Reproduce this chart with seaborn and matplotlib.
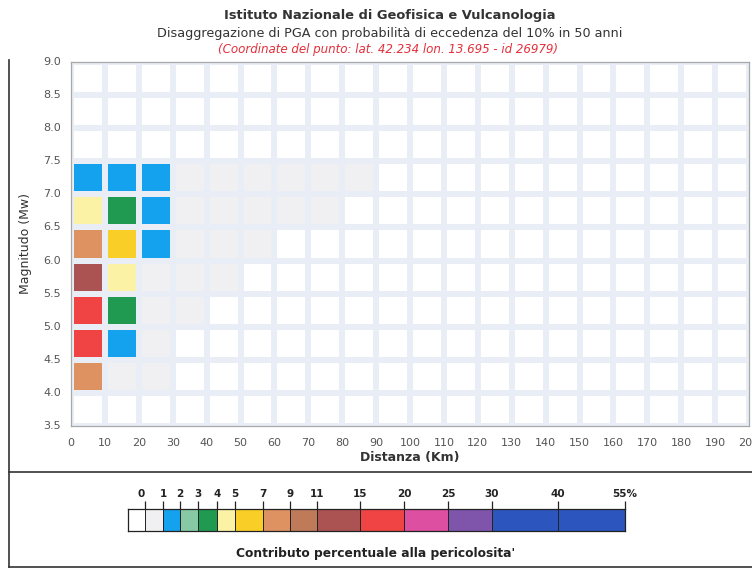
import numpy as np
import pandas as pd
import matplotlib
matplotlib.use("Agg")
import matplotlib.pyplot as plt
from matplotlib.colors import ListedColormap, BoundaryNorm
from matplotlib.lines import Line2D
import seaborn as sns

# ---------------- data ----------------
dist_edges = list(range(0, 210, 10))                     # 0..200 km
mag_edges = [3.5, 4.0, 4.5, 5.0, 5.5, 6.0, 6.5, 7.0, 7.5, 8.0, 8.5, 9.0]

# contribution (%) per magnitude bin (3.5-4.0 ... 8.5-9.0) for each distance bin
contrib_0_10 = [0.0, 8.0, 16.5, 17.0, 12.5, 7.5, 4.5, 1.5, 0.0, 0.0, 0.0]
contrib_10_20 = [0.0, 0.3, 1.6, 3.3, 4.2, 5.5, 3.2, 1.8, 0.0, 0.0, 0.0]
contrib_20_30 = [0.0, 0.1, 0.4, 0.6, 0.7, 1.3, 1.4, 1.2, 0.0, 0.0, 0.0]
contrib_30_40 = [0.0, 0.0, 0.0, 0.1, 0.2, 0.4, 0.6, 0.5, 0.0, 0.0, 0.0]
contrib_40_50 = [0.0, 0.0, 0.0, 0.0, 0.1, 0.3, 0.5, 0.4, 0.0, 0.0, 0.0]
contrib_50_60 = [0.0, 0.0, 0.0, 0.0, 0.0, 0.2, 0.4, 0.3, 0.0, 0.0, 0.0]
contrib_60_70 = [0.0, 0.0, 0.0, 0.0, 0.0, 0.0, 0.3, 0.3, 0.0, 0.0, 0.0]
contrib_70_80 = [0.0, 0.0, 0.0, 0.0, 0.0, 0.0, 0.2, 0.2, 0.0, 0.0, 0.0]
contrib_80_90 = [0.0, 0.0, 0.0, 0.0, 0.0, 0.0, 0.0, 0.1, 0.0, 0.0, 0.0]

# colour classes (%)
class_bounds = [-1, 1e-6, 1, 2, 3, 4, 5, 7, 9, 11, 15, 20, 25, 30, 55]
class_colors = ["#ffffff", "#f0f0f2", "#14a2ee", "#86c9a4", "#1f9a50",
                "#fbf2a6", "#f9cf27", "#de9161", "#bf7a5a", "#ab5352",
                "#f04444", "#dd4fa0", "#7f55ac", "#2c55bd"]
cb_ticks = [0, 1, 2, 3, 4, 5, 7, 9, 11, 15, 20, 25, 30, 40, 55]
cb_ticklabels = ["0", "1", "2", "3", "4", "5", "7", "9", "11", "15",
                 "20", "25", "30", "40", "55%"]

# ---------------- table ----------------
columns = {0: contrib_0_10, 10: contrib_10_20, 20: contrib_20_30,
           30: contrib_30_40, 40: contrib_40_50, 50: contrib_50_60,
           60: contrib_60_70, 70: contrib_70_80, 80: contrib_80_90}
mag_lo = mag_edges[:-1]
grid = pd.DataFrame(0.0, index=mag_lo, columns=dist_edges[:-1])
for d, vals in columns.items():
    grid[d] = vals
grid = grid.iloc[::-1]          # highest magnitude on top

cmap = ListedColormap(class_colors)
norm = BoundaryNorm(class_bounds, cmap.N)

# ---------------- figure ----------------
W, H = 752, 573
fig = plt.figure(figsize=(W / 100, H / 100), dpi=100)
fig.patch.set_facecolor("white")
plt.rcParams["font.family"] = ["DejaVu Sans"]

def fx(px):
    return px / W

def fy(py):
    return 1 - py / H

L, R, T, B = 71, 749, 62, 426
ax = fig.add_axes([fx(L), fy(B), fx(R - L), (B - T) / H])
sns.heatmap(grid, cmap=cmap, norm=norm, cbar=False, linewidths=3.0,
            linecolor="#e9eef6", ax=ax)

ax.set_xticks(np.arange(len(dist_edges)))
ax.set_xticklabels([str(d) for d in dist_edges], rotation=0)
ax.set_yticks(np.arange(len(mag_edges)))
ax.set_yticklabels([f"{m:.1f}" for m in mag_edges[::-1]], rotation=0)
ax.tick_params(axis="both", length=0, labelsize=8, colors="#555555")
ax.tick_params(axis="x", pad=9)
ax.tick_params(axis="y", pad=7)
for s in ax.spines.values():
    s.set_visible(True)
    s.set_color("#a8a8a8")
    s.set_linewidth(0.9)
ax.set_xlabel("Distanza (Km)", fontsize=9, color="#333333", labelpad=2,
              fontweight="semibold")
ax.set_ylabel("Magnitudo (Mw)", fontsize=9, color="#333333", labelpad=8)

# titles
fig.text(fx(390), fy(16), "Istituto Nazionale di Geofisica e Vulcanologia",
         ha="center", va="center", fontsize=9.4, fontweight="bold", color="#333333")
fig.text(fx(390), fy(34), "Disaggregazione di PGA con probabilità di eccedenza del 10% in 50 anni",
         ha="center", va="center", fontsize=9.2, color="#333333")
fig.text(fx(388), fy(49), "(Coordinate del punto: lat. 42.234 lon. 13.695 - id 26979)",
         ha="center", va="center", fontsize=8.6, style="italic", color="#e3303c")

# ---------------- colour scale ----------------
knot_val = [-1, 0, 1, 2, 3, 4, 5, 7, 9, 11, 15, 20, 25, 30, 40, 55]
knot_pos = [0, 17, 35, 52, 70, 89, 107, 135, 162, 189, 232, 276, 320, 364, 430, 497]

def fwd(v):
    return np.interp(v, knot_val, knot_pos)

def inv(p):
    return np.interp(p, knot_pos, knot_val)

cax = fig.add_axes([fx(128), fy(531), fx(625 - 128), 22 / H])
cax.set_xscale("function", functions=(fwd, inv))
edges = np.array(class_bounds, dtype=float)
edges[1] = 0.0
mids = [[(edges[i] + edges[i + 1]) / 2 for i in range(len(edges) - 1)]]
cax.pcolormesh(edges, [0, 1], np.array(mids), cmap=cmap, norm=norm)
cax.vlines(cb_ticks[:-1], 0, 1, color="#222222", linewidth=0.7)
cax.set_xlim(-1, 55)
cax.set_ylim(0, 1)
cax.set_yticks([])
cax.xaxis.tick_top()
cax.set_xticks(cb_ticks)
cax.set_xticklabels(cb_ticklabels)
cax.tick_params(axis="x", length=6, width=0.9, color="#222222",
                labelsize=7.5, pad=1, colors="#222222")
for lab in cax.get_xticklabels():
    lab.set_fontweight("bold")
cax.get_xticklabels()[0].set_horizontalalignment("right")
for s in cax.spines.values():
    s.set_color("#222222")
    s.set_linewidth(0.9)

fig.text(fx(376), fy(553), "Contributo percentuale alla pericolosita'",
         ha="center", va="center", fontsize=8.8, fontweight="bold", color="#222222")

# outer frame lines
frame_kw = dict(transform=fig.transFigure, color="#333333", linewidth=1.2)
fig.add_artist(Line2D([fx(9), fx(9)], [fy(60), fy(567)], **frame_kw))
fig.add_artist(Line2D([fx(9), fx(752)], [fy(472), fy(472)], **frame_kw))
fig.add_artist(Line2D([fx(9), fx(752)], [fy(567), fy(567)], **frame_kw))

fig.savefig("out.png", dpi=100)
